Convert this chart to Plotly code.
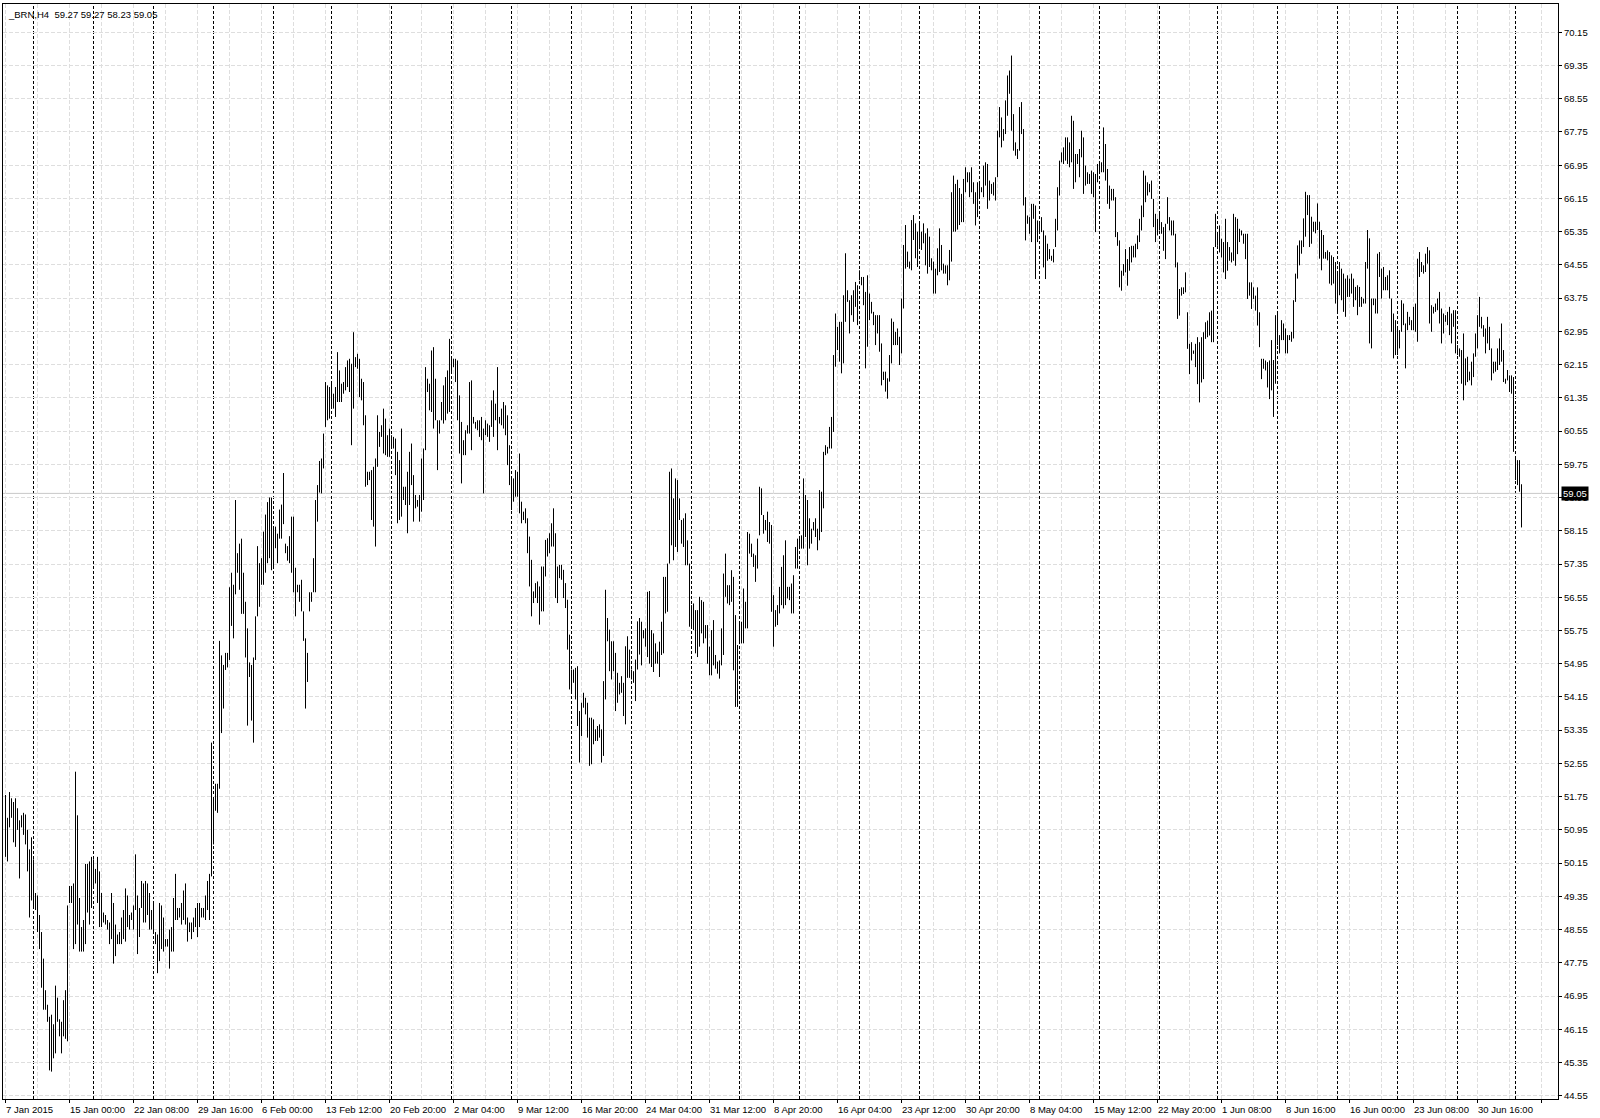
import plotly.graph_objects as go

# ---------------- data (Brent, H4 bars; high / low per bar) ----------------
symbol = "_BRN,H4"
last_ohlc = [59.27, 59.27, 58.23, 59.05]   # open, high, low, close of last bar

seg_a_high = [
    51.79, 51.24, 51.86, 51.71, 51.62, 51.71, 51.47, 51.18, 51.30, 51.36,
    51.32, 50.95, 50.48, 50.77, 50.24, 49.43, 49.37, 48.90, 48.49, 47.85,
    47.09, 46.74, 46.45, 46.50, 46.27, 47.20, 46.91, 46.39, 46.33, 46.85,
    47.09, 49.13, 49.60, 49.60, 49.66, 52.35, 51.30, 49.31, 48.61, 48.78,
    50.13, 50.13, 50.19, 50.30, 50.24, 50.01, 50.30, 49.95, 49.43, 48.96,
    48.90, 48.78, 48.72, 49.43, 49.19, 48.67, 48.43, 48.49, 48.84, 49.02,
    49.54, 49.37, 48.90, 48.96, 49.13, 50.36, 49.37, 49.07, 49.72, 49.66,
    49.72, 49.66, 49.43, 49.02, 49.19, 48.49, 48.43, 49.19, 49.13, 48.84,
    48.32, 48.32, 48.55, 48.61, 49.31, 49.89, 49.07, 49.07, 49.19, 49.49,
    49.66, 48.84, 48.72, 48.72, 48.84, 49.07, 49.19, 49.19, 49.07, 49.07,
    49.37, 49.72, 49.89, 53.05, 51.71, 52.06, 52.06, 55.50, 55.15, 54.92,
    55.21, 55.21, 56.79, 57.14, 56.85, 58.89, 57.61, 57.84, 57.96, 57.14,
    56.44, 55.80, 54.98, 54.92, 55.10, 56.09, 57.78, 57.37, 57.49, 58.13,
    58.54, 58.84, 58.95, 58.95, 58.25, 58.25, 58.08, 58.66, 58.78, 59.54,
    57.84, 57.78, 58.02, 58.49, 58.49, 57.26, 56.85, 56.85, 56.97, 56.21,
    55.56, 55.21, 56.67, 56.67, 57.49, 58.89, 59.25, 59.83,
]
seg_a_low = [
    50.30, 50.19, 51.01, 51.24, 50.65, 50.54, 50.95, 49.78, 51.01, 50.83,
    50.60, 49.95, 48.84, 49.25, 49.07, 49.02, 48.49, 48.08, 47.15, 46.62,
    46.62, 46.33, 45.16, 45.13, 45.45, 45.57, 46.33, 45.98, 45.57, 45.98,
    45.92, 45.86, 49.19, 49.19, 48.08, 48.20, 48.67, 48.02, 48.02, 48.02,
    48.20, 48.96, 48.67, 49.07, 49.60, 49.66, 49.19, 48.61, 48.61, 48.72,
    48.67, 48.55, 48.20, 48.32, 47.73, 47.91, 48.20, 48.20, 48.20, 48.32,
    48.26, 48.61, 48.55, 48.78, 48.55, 49.02, 47.96, 48.37, 49.07, 48.72,
    48.72, 48.90, 48.55, 48.55, 48.49, 48.20, 47.50, 47.79, 48.08, 48.02,
    48.14, 48.14, 47.61, 48.02, 48.02, 48.78, 48.78, 48.84, 48.67, 48.78,
    48.67, 48.26, 48.49, 48.32, 48.49, 48.61, 48.37, 48.61, 48.84, 48.84,
    48.78, 49.02, 48.78, 49.83, 50.60, 51.41, 51.36, 51.94, 53.28, 53.87,
    54.80, 54.86, 55.04, 55.86, 55.56, 56.62, 57.14, 56.73, 56.15, 56.15,
    55.10, 53.46, 54.63, 53.58, 53.05, 55.04, 56.09, 56.32, 56.85, 56.85,
    57.14, 57.37, 57.49, 57.20, 57.26, 57.73, 57.37, 57.96, 57.96, 58.31,
    57.61, 57.43, 57.37, 57.14, 56.67, 56.09, 56.67, 56.44, 56.21, 55.50,
    53.87, 54.51, 56.21, 56.44, 56.67, 56.67, 58.37, 59.07,
]

seg_b_high = [
    59.89, 60.49, 61.73, 61.65, 61.61, 61.73, 61.45, 61.61, 62.45, 62.01,
    61.69, 61.73, 62.09, 62.25, 62.29, 62.17, 62.93, 62.33, 62.41, 62.29,
    61.81, 61.73, 60.93, 59.57, 59.57, 59.61, 59.69, 59.89, 60.93, 60.53,
    60.69, 61.09, 60.85, 60.45, 60.61, 60.45, 60.41, 60.37, 60.05, 59.85,
    60.61, 59.21, 59.21, 59.57, 60.05, 60.25, 59.49, 59.01, 58.89, 59.01,
    59.89, 60.13, 62.09, 61.81, 61.69, 62.49, 62.57, 61.81, 60.81, 60.81,
    61.25, 61.65, 61.85, 62.01, 62.77, 62.33, 62.29, 62.29, 62.25, 61.41,
    60.77, 60.33, 60.57, 60.69, 61.73, 61.77, 60.89, 60.77, 60.81, 60.81,
    60.89, 60.61, 60.81, 60.73, 60.69, 61.29, 61.53, 61.21, 62.09, 60.89,
    61.09, 61.25, 61.17, 60.93, 60.21, 59.45, 59.41, 59.61, 59.57, 60.01,
    58.85, 58.61, 58.69, 58.45, 58.01, 57.45, 56.69, 56.89, 56.93, 56.81,
    57.29, 57.29, 57.93, 57.97, 58.09, 58.33, 58.69, 58.09, 57.29, 57.33,
    57.33, 57.21, 56.89, 56.49, 55.65, 54.81, 54.81, 54.85, 54.89, 53.81,
    54.01, 54.25, 54.13, 54.01, 53.65, 53.65, 53.61, 53.37, 53.45, 53.49,
    53.37, 54.53, 56.73, 56.05, 55.77, 55.49, 55.49, 55.21, 54.73, 54.49,
    54.65, 54.49, 55.37, 55.61, 55.29, 54.81, 54.77, 55.05, 55.97, 56.05,
]
seg_b_low = [
    59.05, 59.65, 60.65, 60.81, 60.85, 61.13, 61.09, 60.89, 61.25, 61.25,
    61.25, 61.45, 61.53, 61.61, 61.49, 60.21, 61.09, 62.09, 62.05, 61.37,
    61.29, 60.69, 59.21, 59.25, 59.37, 58.41, 58.25, 57.77, 59.69, 60.17,
    60.41, 60.01, 59.97, 59.93, 59.93, 60.17, 60.13, 59.49, 58.33, 58.41,
    58.49, 58.89, 58.77, 58.09, 58.77, 59.25, 58.37, 58.69, 58.73, 58.37,
    58.61, 58.89, 60.09, 61.49, 61.05, 61.01, 60.61, 60.81, 59.61, 60.49,
    60.81, 60.73, 60.81, 60.97, 61.01, 61.93, 62.09, 61.73, 60.81, 60.01,
    59.29, 59.97, 59.97, 60.49, 60.49, 60.09, 60.73, 60.61, 60.57, 60.41,
    60.33, 59.05, 60.45, 60.41, 60.29, 60.65, 60.41, 60.81, 60.09, 60.73,
    60.69, 60.61, 60.45, 59.73, 59.25, 58.65, 58.85, 58.97, 58.97, 58.57,
    58.33, 58.41, 58.33, 57.61, 56.81, 56.09, 56.41, 56.53, 56.41, 55.89,
    56.21, 56.21, 57.05, 57.53, 57.61, 57.77, 57.77, 56.53, 56.41, 57.01,
    56.97, 56.53, 56.29, 55.29, 54.33, 54.29, 54.49, 54.09, 53.45, 52.57,
    53.21, 53.89, 53.73, 53.17, 52.49, 52.53, 53.01, 53.09, 53.09, 53.17,
    52.57, 52.73, 54.09, 55.49, 54.77, 54.57, 54.77, 53.81, 54.01, 54.21,
    54.25, 53.69, 53.49, 54.61, 54.61, 54.57, 54.49, 54.05, 54.81, 55.17,
]

seg_c_high = [
    55.96, 55.76, 55.80, 56.68, 56.70, 55.76, 55.68, 55.44, 55.24, 55.48,
    55.96, 57.04, 57.04, 57.36, 59.57, 59.65, 58.93, 59.41, 59.37, 58.93,
    58.41, 58.45, 58.57, 57.92, 57.36, 56.36, 56.40, 56.24, 56.24, 56.56,
    56.48, 56.44, 55.88, 55.88, 55.36, 55.76, 56.00, 55.16, 55.00, 55.03,
    55.80, 57.12, 57.60, 56.84, 56.84, 57.20, 57.04, 56.12, 55.40, 55.96,
    55.96, 56.76, 56.44, 58.12, 58.08, 57.84, 57.60, 57.56, 57.96, 59.21,
    59.17, 58.53, 58.41, 58.61, 58.36, 58.29, 56.60, 56.24, 56.36, 56.80,
    57.28, 57.56, 57.92, 56.80, 56.80, 56.88, 57.08, 57.76, 57.96, 58.00,
    58.04, 59.41, 59.01, 58.89, 58.45, 58.20, 58.36, 58.45, 58.20, 59.13,
    59.09, 60.05, 60.21, 60.17, 60.65, 60.89, 62.38, 63.38, 63.06, 63.18,
    63.18, 63.82, 64.83, 63.94, 63.70, 63.82, 63.94, 64.14, 64.06, 64.42,
    64.26, 64.26, 63.90, 64.30, 63.86, 63.66, 63.42, 63.34, 63.34, 63.34,
    62.66, 61.98, 61.98, 61.82, 62.38, 63.26, 63.18, 62.94, 63.02, 62.82,
    63.74, 65.03, 65.51, 64.87, 64.63, 65.63, 65.75, 65.55, 65.35, 65.55,
    65.35, 65.55, 65.31, 65.43, 65.23, 64.71, 64.63, 64.46, 64.95, 65.43,
    65.03, 64.58, 64.54, 64.54, 64.91, 66.30, 66.70, 66.50, 66.60, 66.40,
]
seg_c_low = [
    54.91, 55.56, 55.36, 55.11, 54.95, 54.87, 54.75, 54.95, 54.95, 54.63,
    55.16, 55.20, 56.16, 56.20, 57.36, 57.80, 57.44, 57.76, 57.64, 58.41,
    57.84, 57.76, 57.32, 57.32, 55.84, 55.84, 55.76, 55.20, 55.11, 55.36,
    55.68, 55.44, 55.56, 54.95, 54.67, 54.67, 54.91, 54.83, 54.71, 54.59,
    54.91, 55.16, 56.56, 56.40, 56.36, 56.44, 54.79, 53.91, 53.91, 55.44,
    55.44, 55.44, 55.80, 55.80, 57.60, 57.52, 57.28, 56.92, 57.24, 58.04,
    58.53, 58.08, 58.16, 57.88, 57.84, 56.20, 55.36, 55.84, 55.88, 56.16,
    56.36, 56.28, 56.36, 56.52, 56.48, 56.16, 56.16, 57.24, 57.24, 57.72,
    57.72, 57.72, 58.00, 57.32, 57.72, 57.84, 58.16, 58.00, 57.68, 57.92,
    58.12, 58.69, 59.97, 60.01, 60.13, 60.13, 60.53, 62.10, 62.50, 62.22,
    61.94, 62.18, 63.18, 63.66, 62.90, 63.34, 63.18, 63.54, 63.10, 64.18,
    64.06, 63.58, 62.06, 62.58, 63.22, 63.38, 63.10, 62.62, 62.90, 62.46,
    61.65, 61.78, 61.50, 61.33, 61.74, 62.18, 62.62, 62.62, 62.62, 62.14,
    62.42, 63.50, 64.46, 64.50, 64.46, 64.42, 65.15, 64.71, 64.50, 64.99,
    64.91, 65.07, 64.54, 64.34, 64.50, 64.42, 63.86, 63.86, 64.30, 64.38,
    64.42, 64.34, 64.34, 64.06, 64.18, 64.63, 65.35, 65.35, 65.40, 65.51,
]

seg_d_high = [
    66.26, 66.62, 66.90, 66.78, 66.78, 66.90, 66.54, 66.30, 66.54, 66.54,
    66.42, 66.94, 67.02, 66.98, 66.58, 66.50, 66.54, 66.66, 67.78, 68.35,
    68.10, 67.82, 68.51, 69.11, 69.23, 69.59, 68.18, 67.50, 67.34, 68.35,
    68.47, 67.82, 66.18, 65.74, 65.70, 66.02, 66.02, 65.98, 65.62, 65.54,
    65.70, 65.38, 65.26, 65.06, 64.93, 64.77, 64.93, 65.66, 66.42, 67.06,
    67.26, 67.38, 67.62, 67.62, 67.50, 68.14, 68.02, 67.22, 67.22, 67.34,
    67.78, 67.62, 66.94, 66.78, 66.74, 66.82, 66.78, 66.74, 66.98, 66.98,
    67.02, 67.86, 67.46, 66.86, 66.46, 66.38, 66.38, 66.18, 65.34, 65.14,
    64.41, 64.57, 64.93, 64.69, 64.98, 65.01, 65.01, 65.06, 65.26, 65.66,
    65.98, 66.82, 66.70, 66.54, 66.50, 66.58, 66.14, 65.78, 65.66, 65.78,
    65.58, 65.46, 65.54, 66.18, 65.70, 65.62, 65.62, 65.30, 64.61, 63.97,
    64.01, 64.01, 64.37, 63.41, 62.65, 62.69, 62.49, 62.65, 62.81, 62.69,
    62.81, 62.93, 63.17, 63.21, 63.41, 63.45, 64.98, 65.78, 65.30, 65.50,
    65.18, 65.10, 65.66, 65.10, 64.98, 64.85, 65.78, 65.70, 65.66, 65.42,
    65.38, 65.30, 65.30, 65.30, 64.13, 64.13, 64.01, 63.81, 64.01, 63.41,
    62.29, 62.29, 62.25, 62.21, 62.25,
]
seg_d_low = [
    65.58, 65.58, 66.30, 66.54, 66.18, 66.30, 66.02, 65.50, 65.70, 66.18,
    66.30, 66.18, 66.46, 65.90, 66.10, 66.26, 66.22, 66.10, 66.66, 67.62,
    67.38, 67.54, 67.70, 68.14, 68.67, 67.78, 67.30, 67.18, 67.10, 67.30,
    67.70, 65.98, 65.14, 65.54, 65.30, 65.10, 65.66, 64.21, 65.10, 65.30,
    65.34, 64.49, 64.21, 64.65, 64.69, 64.65, 64.61, 64.98, 65.38, 66.22,
    67.02, 66.98, 67.06, 66.98, 66.90, 67.02, 66.38, 66.54, 66.98, 66.66,
    67.14, 66.26, 66.46, 66.50, 66.50, 66.26, 66.18, 65.34, 66.54, 66.74,
    66.78, 66.78, 66.58, 66.02, 65.90, 66.10, 66.10, 65.22, 65.01, 64.01,
    63.93, 64.29, 64.37, 64.05, 64.41, 64.61, 64.73, 64.73, 64.93, 65.10,
    65.38, 65.70, 66.06, 66.22, 66.30, 66.14, 65.46, 65.10, 65.26, 65.38,
    65.30, 64.89, 64.69, 65.54, 65.38, 65.26, 65.26, 64.49, 63.25, 63.33,
    63.81, 63.85, 63.89, 62.53, 61.92, 62.25, 62.41, 62.09, 61.68, 61.24,
    61.72, 61.80, 62.77, 62.81, 62.85, 62.69, 62.69, 64.98, 65.01, 64.85,
    64.73, 64.37, 64.21, 64.41, 64.65, 64.61, 64.65, 64.53, 64.81, 65.10,
    65.26, 65.06, 64.69, 63.73, 63.81, 63.49, 63.73, 63.45, 63.09, 62.57,
    61.80, 62.05, 62.01, 61.60, 61.32,
]

seg_e_high = [
    62.74, 62.26, 63.34, 63.38, 62.86, 63.22, 63.14, 63.02, 62.86, 62.86,
    62.94, 63.70, 64.34, 65.02, 65.14, 65.14, 65.67, 66.31, 66.23, 66.23,
    65.71, 65.59, 65.59, 66.03, 65.59, 65.39, 65.27, 64.86, 64.90, 64.86,
    64.78, 64.74, 64.62, 64.34, 64.62, 64.46, 64.34, 64.22, 64.30, 64.22,
    64.34, 64.22, 64.02, 64.06, 64.02, 63.78, 63.74, 64.62, 65.39, 65.19,
    63.74, 63.74, 63.74, 64.82, 64.86, 64.46, 64.50, 64.26, 64.30, 64.42,
    63.74, 63.38, 63.22, 63.06, 62.98, 63.70, 63.62, 63.14, 63.42, 63.30,
    63.22, 63.54, 63.62, 64.70, 64.86, 64.62, 64.54, 64.82, 64.98, 64.90,
    63.58, 63.54, 63.62, 63.74, 63.90, 63.50, 63.38, 63.34, 63.42, 63.54,
    63.38, 63.46, 63.46, 62.62, 62.54, 62.50, 62.90, 62.30, 62.34, 61.98,
    62.22, 62.42, 62.90, 63.34, 63.78, 63.30, 63.10, 63.02, 63.30, 63.06,
    62.54, 62.22, 62.22, 62.54, 62.78, 63.14, 62.50, 61.81, 62.02, 61.89,
    61.89, 61.85, 59.89, 59.85, 59.85, 59.27,
]
seg_e_low = [
    61.53, 60.89, 61.69, 62.62, 62.42, 62.74, 62.74, 62.42, 62.42, 62.74,
    62.70, 62.78, 63.66, 64.22, 64.54, 64.82, 64.98, 65.23, 65.75, 64.98,
    65.06, 65.35, 65.31, 65.39, 64.70, 64.42, 64.70, 64.70, 64.66, 64.10,
    64.06, 64.10, 63.62, 63.42, 63.82, 63.70, 63.42, 63.30, 63.78, 63.78,
    63.86, 63.54, 63.70, 63.34, 63.54, 63.54, 63.62, 63.62, 64.46, 62.66,
    62.54, 63.58, 63.38, 63.38, 64.26, 63.74, 63.94, 63.94, 63.94, 63.74,
    62.94, 62.30, 62.38, 62.38, 62.54, 62.94, 63.10, 62.06, 62.98, 63.10,
    62.98, 62.98, 62.94, 62.70, 64.26, 64.38, 64.34, 64.38, 64.58, 63.14,
    62.94, 63.38, 63.42, 63.46, 63.14, 62.66, 62.90, 63.18, 63.10, 62.86,
    62.66, 63.06, 62.42, 62.38, 62.34, 61.69, 61.29, 61.65, 61.73, 61.77,
    61.65, 61.85, 62.34, 62.54, 63.06, 63.02, 62.82, 62.42, 62.66, 62.50,
    61.77, 61.94, 61.98, 62.02, 62.14, 62.22, 61.73, 61.69, 61.77, 61.49,
    61.45, 60.05, 59.37, 59.25, 59.09, 58.23,
]

# bar indices of the weekly period separators
week_starts = [14, 44, 74, 104, 134, 163, 193, 223, 253, 283, 313, 343, 367,
               397, 427, 457, 487, 517, 547, 577, 606, 636, 666, 696, 726, 755]

# time-scale labels (one every 32 bars, starting at bar 0)
time_labels = ["7 Jan 2015", "15 Jan 00:00", "22 Jan 08:00", "29 Jan 16:00",
               "6 Feb 00:00", "13 Feb 12:00", "20 Feb 20:00", "2 Mar 04:00",
               "9 Mar 12:00", "16 Mar 20:00", "24 Mar 04:00", "31 Mar 12:00",
               "8 Apr 20:00", "16 Apr 04:00", "23 Apr 12:00", "30 Apr 20:00",
               "8 May 04:00", "15 May 12:00", "22 May 20:00", "1 Jun 08:00",
               "8 Jun 16:00", "16 Jun 00:00", "23 Jun 08:00", "30 Jun 16:00"]
label_step = 32

high = seg_a_high + seg_b_high + seg_c_high + seg_d_high + seg_e_high
low = seg_a_low + seg_b_low + seg_c_low + seg_d_low + seg_e_low

# ---------------- figure ----------------
FONT = "Liberation Sans, Arial, sans-serif"
GRID = "#dedede"
GDASH = "4px,2px"

xs, ys = [], []
for i in range(len(high)):
    xs += [i, i, None]
    ys += [low[i], high[i], None]

fig = go.Figure(go.Scatter(x=xs, y=ys, mode="lines",
                           line=dict(color="black", width=1),
                           hoverinfo="skip", showlegend=False))

shapes = []
for w in week_starts:
    shapes.append(dict(type="line", xref="x", yref="paper", x0=w, x1=w, y0=0, y1=1,
                       line=dict(color="black", width=1, dash="3px,2px"), layer="below"))
close = last_ohlc[3]
shapes.append(dict(type="line", xref="paper", yref="y", x0=0, x1=1, y0=close, y1=close,
                   line=dict(color="#c8c8c8", width=1), layer="below"))

annotations = []
for k, t in enumerate(time_labels):
    annotations.append(dict(xref="x", yref="paper", x=k * label_step, y=0,
                            xanchor="left", yanchor="top", xshift=-2, yshift=-3,
                            text=t, showarrow=False,
                            font=dict(family=FONT, size=9.5, color="black")))
header = symbol + "  " + " ".join(f"{v:.2f}" for v in last_ohlc)
annotations.append(dict(xref="paper", yref="paper", x=0, y=1, xanchor="left", yanchor="top",
                        xshift=3, yshift=-3, text=header, showarrow=False,
                        font=dict(family=FONT, size=9.5, color="black")))
annotations.append(dict(xref="paper", yref="y", x=1, y=close, xanchor="left", yanchor="middle",
                        xshift=3, text=f"{close:.2f}", showarrow=False, bgcolor="black",
                        borderpad=1, font=dict(family=FONT, size=9.5, color="white")))

fig.update_layout(
    width=1600, height=1118,
    margin=dict(l=3, r=42, t=4, b=19),
    paper_bgcolor="white", plot_bgcolor="white",
    font=dict(family=FONT, size=9.5, color="black"),
    showlegend=False,
    shapes=shapes,
    annotations=annotations,
    xaxis=dict(range=[-1.25, 776.25], tickmode="linear", tick0=0, dtick=label_step,
               showticklabels=False, ticks="outside", ticklen=3, tickcolor="black",
               showgrid=True, gridcolor=GRID, griddash=GDASH, gridwidth=1,
               minor=dict(tick0=0, dtick=label_step // 2, showgrid=True, gridcolor=GRID,
                          griddash=GDASH, ticks=""),
               showline=True, linecolor="black", linewidth=1, mirror=True, zeroline=False),
    yaxis=dict(range=[44.471, 70.831], side="right", tickmode="linear", tick0=44.55, dtick=0.8,
               tickformat=".2f", ticks="outside", ticklen=3, tickcolor="black",
               tickfont=dict(family=FONT, size=9.5, color="black"),
               showgrid=True, gridcolor=GRID, griddash=GDASH, gridwidth=1,
               showline=True, linecolor="black", linewidth=1, mirror=True, zeroline=False),
)

fig.write_html("out.html", config={"displayModeBar": False},
               post_script="document.body.style.margin='0';document.body.style.overflow='hidden';")
